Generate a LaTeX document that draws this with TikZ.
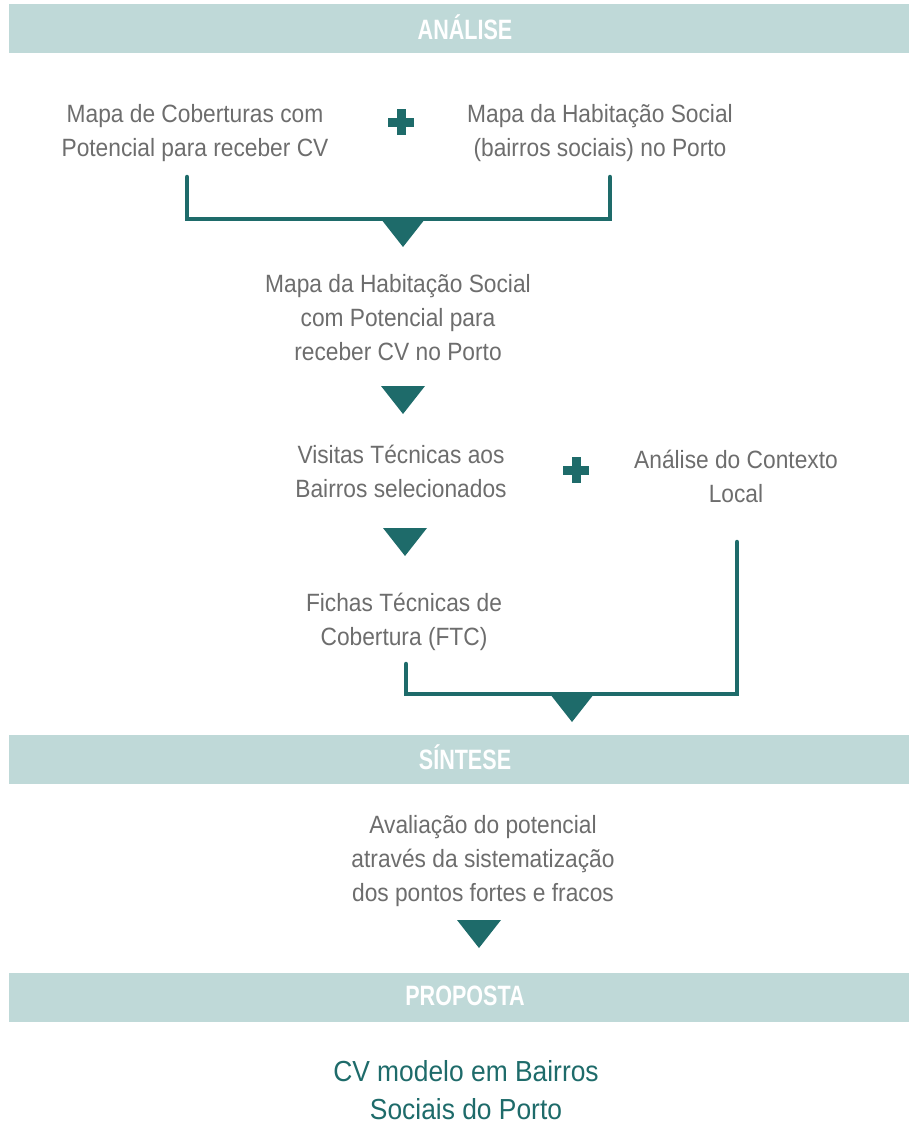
\documentclass[tikz,border=0pt]{standalone}
\usepackage{fontspec}
\setmainfont{Liberation Sans}
\newfontfamily\bodyfont[FakeStretch=0.91]{Liberation Sans}
\newfontfamily\headfont[FakeStretch=0.77]{Liberation Sans}
\definecolor{barcol}{HTML}{BFD9D8}
\definecolor{tealdk}{HTML}{1E6B6A}
\definecolor{textgrey}{HTML}{6D6D6D}
\tikzset{
  txt/.style={font=\bodyfont\fontsize{25}{34}\selectfont, text=textgrey, align=center, inner sep=0pt},
  final/.style={font=\bodyfont\fontsize{29}{38}\selectfont, text=tealdk, align=center, inner sep=0pt},
  headtxt/.style={font=\headfont\bfseries\fontsize{28}{32}\selectfont, text=white, inner sep=0pt},
  bar/.style={fill=barcol, draw=none, inner sep=0pt, minimum width=900pt, minimum height=49pt},
  conn/.style={draw=tealdk, line width=4.5pt, line cap=round, line join=miter},
  plussign/.pic={\fill[tealdk] (-13,-4.5) rectangle (13,4.5); \fill[tealdk] (-4.5,-13) rectangle (4.5,13);},
  downtri/.pic={\fill[tealdk] (-22,0) -- (22,0) -- (0,28) -- cycle;}
}
\begin{document}
\begin{tikzpicture}[x=1pt,y=-1pt]
\useasboundingbox (0,0) rectangle (909,1124);
% bars
\node[bar] (bar1) at (459,28.5) {};
\node[headtxt] (h1) at (465,27) {ANÁLISE};
\node[bar] (bar2) at (459,759) {};
\node[headtxt] (h2) at (465,757) {SÍNTESE};
\node[bar] (bar3) at (459,997.5) {};
\node[headtxt] (h3) at (465,996) {PROPOSTA};
% texts
\node[txt] (A) at (195,133) {Mapa de Coberturas com\\Potencial para receber CV};
\node[txt] (B) at (600,133) {Mapa da Habitação Social\\(bairros sociais) no Porto};
\node[txt] (C) at (398,318) {Mapa da Habitação Social\\com Potencial para\\receber CV no Porto};
\node[txt] (D) at (401,471) {Visitas Técnicas aos\\Bairros selecionados};
\node[txt] (E) at (736,476) {Análise do Contexto\\Local};
\node[txt] (F) at (404,622) {Fichas Técnicas de\\Cobertura (FTC)};
\node[txt] (G) at (483,861) {Avaliação do potencial\\através da sistematização\\dos pontos fortes e fracos};
\node[final] (H) at (466,1090) {CV modelo em Bairros\\Sociais do Porto};
% plus signs
\pic at (401,122) {plussign};
\pic at (576,470) {plussign};
% connectors
\coordinate (a1) at (187,177);
\coordinate (b1) at (610,177);
\coordinate (j1) at (403,219);
\draw[conn] (a1) |- (j1) -| (b1);
\coordinate (f1) at (406,664);
\coordinate (e1) at (737,542);
\coordinate (j2) at (572,694);
\draw[conn] (f1) |- (j2) -| (e1);
% triangles
\pic at (403,219) {downtri};
\pic at (403,386) {downtri};
\pic at (405,528) {downtri};
\pic at (572,694) {downtri};
\pic at (479,920) {downtri};
\end{tikzpicture}
\end{document}
